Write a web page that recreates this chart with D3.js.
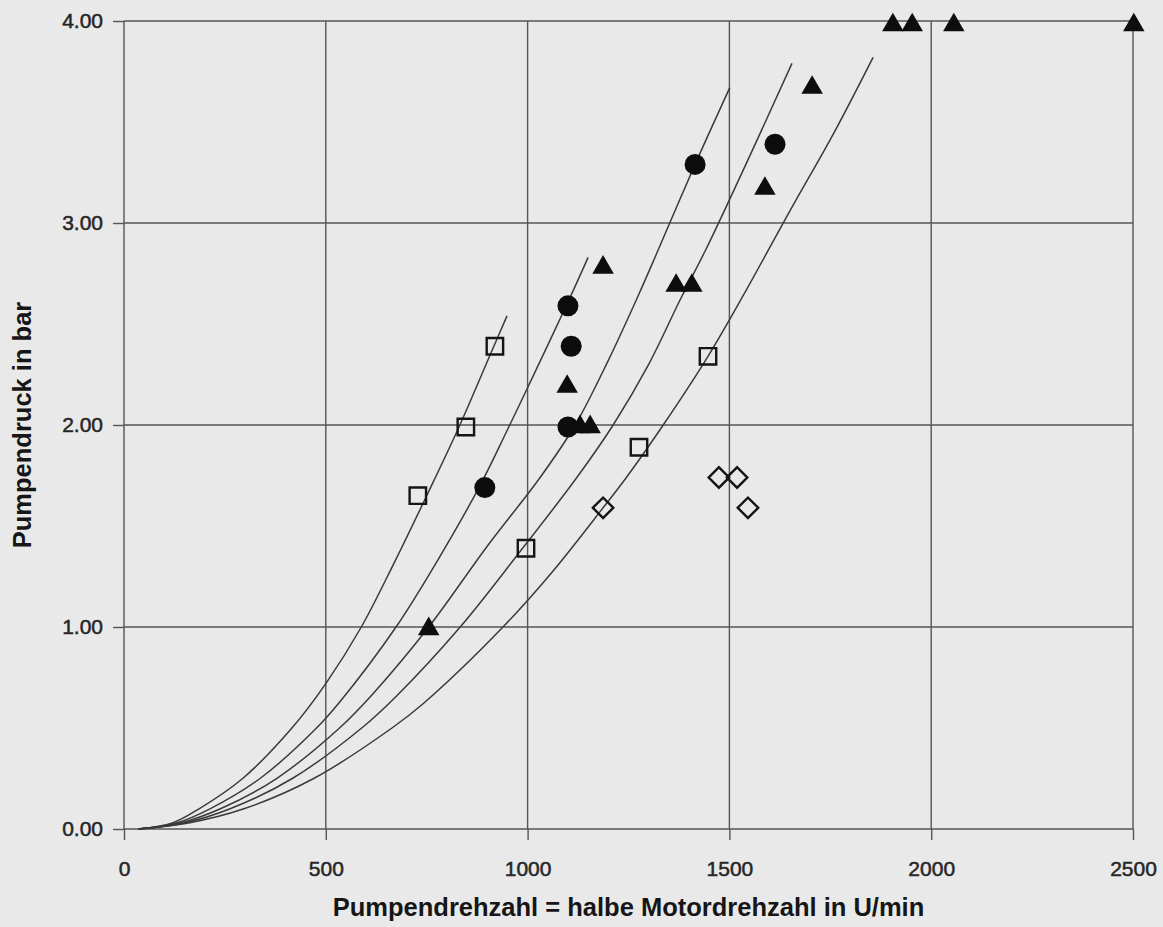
<!DOCTYPE html>
<html>
<head>
<meta charset="utf-8">
<script src="https://cdn.jsdelivr.net/npm/d3@7"></script>
<style>
  html, body { margin: 0; padding: 0; background: #e9e9e9; }
  svg { display: block; font-family: "Liberation Sans", Arial, sans-serif; }
  .tick text { fill: #262626; font-size: 21px; }
  .axis-title { fill: #161616; font-size: 25.5px; font-weight: bold; }
</style>
</head>
<body>
<svg id="chart"></svg>
<script>
const xTicks = [0, 500, 1000, 1500, 2000, 2500];
const yTicks = [0, 1, 2, 3, 4];

const curve1 = [[35, 0], [120, 0.03], [186, 0.1], [294, 0.25], [416, 0.5], [500, 0.72], [588, 1.0], [670, 1.32], [750, 1.65], [830, 1.99], [910, 2.36], [949, 2.54]];
const curve2 = [[35, 0], [130, 0.03], [213, 0.1], [337, 0.25], [477, 0.5], [535, 0.63], [674, 1.0], [780, 1.34], [882, 1.7], [951, 1.98], [1025, 2.29], [1098, 2.6], [1150, 2.83]];
const curve3 = [[35, 0], [140, 0.03], [239, 0.1], [378, 0.25], [534, 0.5], [617, 0.67], [755, 1.0], [900, 1.4], [1031, 1.74], [1118, 2.0], [1200, 2.32], [1274, 2.64], [1320, 2.85], [1415, 3.29], [1501, 3.67]];
const curve4 = [[35, 0], [150, 0.03], [263, 0.1], [417, 0.25], [589, 0.5], [676, 0.66], [833, 1.0], [980, 1.37], [1122, 1.74], [1212, 2.0], [1300, 2.3], [1378, 2.62], [1442, 2.87], [1550, 3.33], [1655, 3.79]];
const curve5 = [[35, 0], [160, 0.03], [297, 0.1], [470, 0.25], [664, 0.5], [741, 0.62], [939, 1.0], [1060, 1.27], [1187, 1.59], [1241, 1.73], [1336, 2.0], [1447, 2.34], [1534, 2.64], [1650, 3.06], [1760, 3.45], [1856, 3.82]];

// Messpunkte
const triangles = [[755, 0.99], [1098, 2.19], [1130, 1.99], [1155, 1.99], [1187, 2.78], [1368, 2.69], [1407, 2.69], [1588, 3.17], [1705, 3.67], [1905, 3.98], [1953, 3.98], [2056, 3.98], [2502, 3.98]];
const circles = [[894, 1.69], [1100, 2.59], [1108, 2.39], [1100, 1.99], [1415, 3.29], [1613, 3.39]];
const squares = [[728, 1.65], [847, 1.99], [919, 2.39], [996, 1.39], [1276, 1.89], [1447, 2.34]];
const diamonds = [[1187, 1.59], [1474, 1.74], [1519, 1.74], [1546, 1.59]];

const width = 1163;
const height = 927;
const margin = { top: 21, right: 30, bottom: 98, left: 124 };
const innerW = width - margin.left - margin.right;
const innerH = height - margin.top - margin.bottom;

const svg = d3.select('#chart').attr('width', width).attr('height', height);
svg.append('rect').attr('width', width).attr('height', height).attr('fill', '#e9e9e9');

const g = svg.append('g').attr('transform', `translate(${margin.left},${margin.top})`);

const x = d3.scaleLinear().domain([0, 2500]).range([0, innerW]);
const y = d3.scaleLinear().domain([0, 4]).range([innerH, 0]);

// Gitter
g.append('g')
  .selectAll('line')
  .data(xTicks)
  .join('line')
  .attr('x1', (d) => x(d)).attr('x2', (d) => x(d))
  .attr('y1', 0).attr('y2', innerH)
  .attr('stroke', '#555').attr('stroke-width', 1.4);
g.append('g')
  .selectAll('line')
  .data(yTicks)
  .join('line')
  .attr('x1', 0).attr('x2', innerW)
  .attr('y1', (d) => y(d)).attr('y2', (d) => y(d))
  .attr('stroke', '#555').attr('stroke-width', 1.4);

const xAxis = d3.axisBottom(x).tickValues(xTicks).tickFormat(d3.format('d')).tickSize(11).tickSizeOuter(0).tickPadding(21);
const yAxis = d3.axisLeft(y).tickValues(yTicks).tickFormat(d3.format('.2f')).tickSize(11).tickSizeOuter(0).tickPadding(10);

const xg = g.append('g').attr('transform', `translate(0,${innerH})`).call(xAxis);
const yg = g.append('g').call(yAxis);
[xg, yg].forEach((ax) => {
  ax.select('.domain').remove();
  ax.selectAll('.tick line').attr('stroke', '#555').attr('stroke-width', 1.4);
  ax.selectAll('.tick text').attr('stroke', '#262626').attr('stroke-width', 0.5);
});

// Kurven
const line = d3.line()
  .curve(d3.curveCatmullRom.alpha(0.5))
  .x((d) => x(d[0]))
  .y((d) => y(d[1]));

g.append('g')
  .selectAll('path')
  .data([curve1, curve2, curve3, curve4, curve5])
  .join('path')
  .attr('d', line)
  .attr('fill', 'none')
  .attr('stroke', '#3a3a3a')
  .attr('stroke-width', 1.5);

// Symbole
const markers = g.append('g');
markers.selectAll('.tri')
  .data(triangles)
  .join('path')
  .attr('class', 'tri')
  .attr('d', d3.symbol(d3.symbolTriangle, 200))
  .attr('transform', (d) => `translate(${x(d[0])},${y(d[1])})`)
  .attr('fill', '#0d0d0d');

markers.selectAll('.dot')
  .data(circles)
  .join('circle')
  .attr('class', 'dot')
  .attr('cx', (d) => x(d[0]))
  .attr('cy', (d) => y(d[1]))
  .attr('r', 10.5)
  .attr('fill', '#0d0d0d');

markers.selectAll('.sq')
  .data(squares)
  .join('path')
  .attr('class', 'sq')
  .attr('d', d3.symbol(d3.symbolSquare, 270))
  .attr('transform', (d) => `translate(${x(d[0])},${y(d[1])})`)
  .attr('fill', 'none')
  .attr('stroke', '#151515')
  .attr('stroke-width', 2.4);

markers.selectAll('.dia')
  .data(diamonds)
  .join('path')
  .attr('class', 'dia')
  .attr('d', d3.symbol(d3.symbolSquare, 210))
  .attr('transform', (d) => `translate(${x(d[0])},${y(d[1])}) rotate(45)`)
  .attr('fill', 'none')
  .attr('stroke', '#151515')
  .attr('stroke-width', 2.4);

// Achsentitel
g.append('text')
  .attr('class', 'axis-title')
  .attr('text-anchor', 'middle')
  .attr('x', innerW / 2)
  .attr('y', innerH + 87)
  .text('Pumpendrehzahl = halbe Motordrehzahl in U/min');

g.append('text')
  .attr('class', 'axis-title')
  .attr('text-anchor', 'middle')
  .attr('transform', `translate(${-margin.left + 31},${innerH / 2}) rotate(-90)`)
  .text('Pumpendruck in bar');
</script>
</body>
</html>
